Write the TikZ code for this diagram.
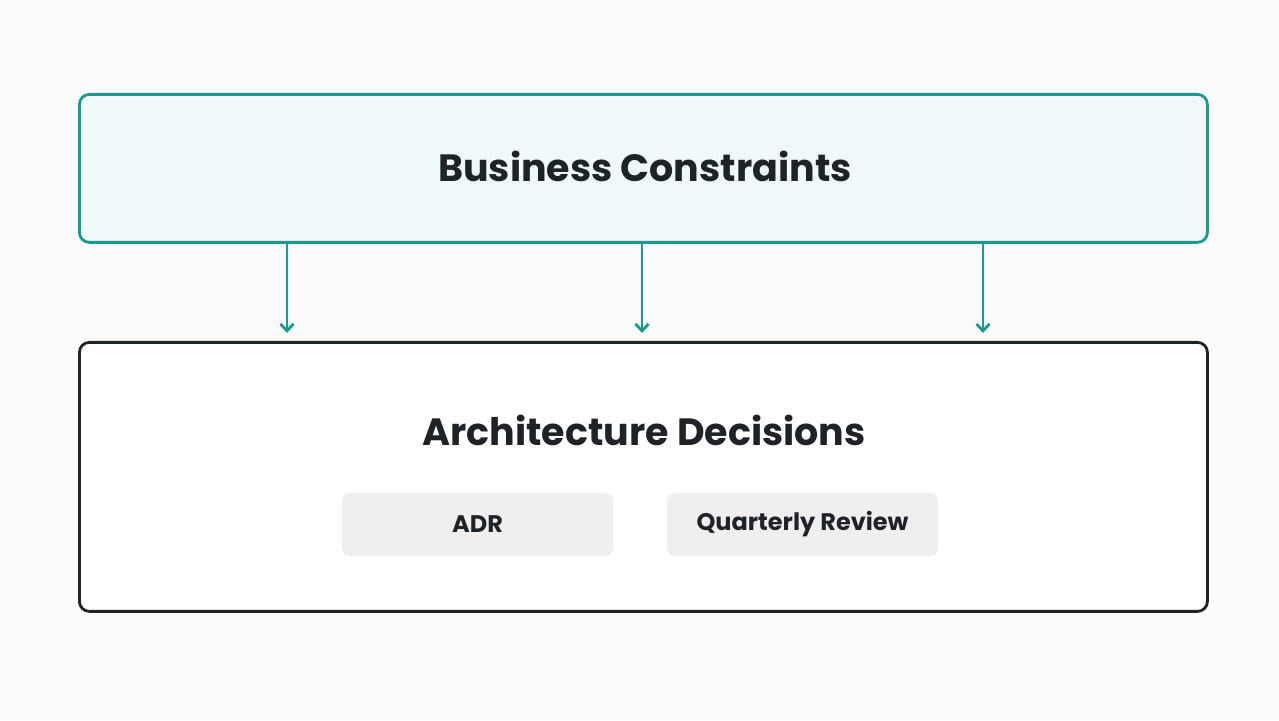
\documentclass[tikz,border=0pt]{standalone}
\usepackage{fontspec}
\setmainfont{Poppins}
\usetikzlibrary{arrows.meta}
\definecolor{tealc}{HTML}{1A9A8C}
\definecolor{tealf}{HTML}{EFF9FA}
\definecolor{darkc}{HTML}{1F2328}
\definecolor{grayf}{HTML}{EFEFEF}
\definecolor{bgc}{HTML}{FBFBFB}
\begin{document}
\begin{tikzpicture}[x=1pt,y=1pt]
	\tikzset{boite/.style={rectangle, rounded corners=10pt, line width=2.8pt, anchor=north west},
		titre/.style={font=\bfseries\fontsize{38}{44}\selectfont, text=darkc},
		puce/.style={rectangle, rounded corners=8pt, fill=grayf, draw=none, minimum width=271pt, minimum height=63pt, font=\bfseries\fontsize{24}{28}\selectfont, text=darkc},
		fleche/.style={-{Straight Barb[length=7pt,width=13pt]}, line width=2.8pt, draw=tealc}};

	\fill[bgc] (0,0) rectangle (1279,720);

	\node[boite, draw=tealc, fill=tealf, minimum width=1128pt, minimum height=148pt] (bc) at (78,627) {};
	\node[boite, draw=darkc, fill=white, minimum width=1128pt, minimum height=269pt] (ad) at (78,379) {};

	\node[titre] (tbc) at (645,554) {Business Constraints};
	\node[titre] (tad) at (644,290) {Architecture Decisions};

	\node[puce] (adr) at (477.5,195.5) {ADR};
	\node[puce] (qr) at (802.5,195.5) {Quarterly Review};

	\coordinate (c1) at (287,387);
	\coordinate (c2) at (642,387);
	\coordinate (c3) at (983,387);
	\draw[fleche] (bc.south west -| c1) -- (c1);
	\draw[fleche] (bc.south west -| c2) -- (c2);
	\draw[fleche] (bc.south west -| c3) -- (c3);
\end{tikzpicture}
\end{document}
